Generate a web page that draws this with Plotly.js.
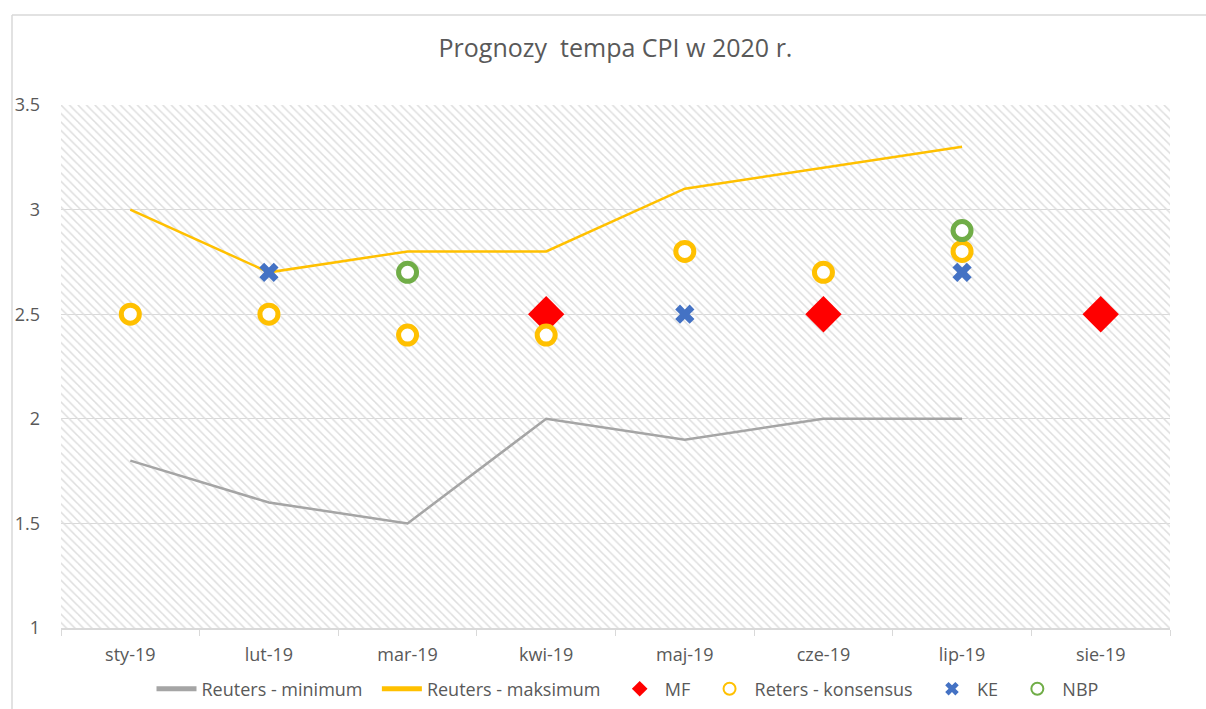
<!DOCTYPE html>
<html>
<head>
<meta charset="utf-8">
<script src="https://cdn.plot.ly/plotly-3.0.1.min.js"></script>
<style>html,body{margin:0;padding:0;background:#fff;}#chart{width:1206px;height:709px;}</style>
</head>
<body>
<div id="chart"></div>
<script>
const months = ["sty-19","lut-19","mar-19","kwi-19","maj-19","cze-19","lip-19","sie-19"];
const reutersMin = [1.8, 1.6, 1.5, 2.0, 1.9, 2.0, 2.0, null];
const reutersMax = [3.0, 2.7, 2.8, 2.8, 3.1, 3.2, 3.3, null];
const mf = [null, null, null, 2.5, null, 2.5, null, 2.5];
const konsensus = [2.5, 2.5, 2.4, 2.4, 2.8, 2.7, 2.8, null];
const ke = [null, 2.7, null, null, 2.5, null, 2.7, null];
const nbp = [null, null, 2.7, null, null, null, 2.9, null];
const yRange = [1, 3.5];

const txt = '#595959';
const font = 'Open Sans, sans-serif';
const margin = {l: 61, r: 36, t: 105, b: 81, autoexpand: false};
const W = 1206, H = 709;
const pw = W - margin.l - margin.r, ph = H - margin.t - margin.b;
const px = v => (v - margin.l) / pw;
const py = v => (H - margin.b - v) / ph;
const pad = '&nbsp;&nbsp;';

const traces = [
  {type:'bar', x:[0.5], y:[yRange[1]-yRange[0]], base:[yRange[0]], width:[1], xaxis:'x', yaxis:'y',
   marker:{color:'rgba(0,0,0,0)', line:{width:0}, pattern:{shape:'\\', fgcolor:'#dedede', bgcolor:'rgba(0,0,0,0)', size:6, solidity:0.25}},
   showlegend:false, hoverinfo:'skip'},
  {type:'scatter', mode:'lines', name:'Reuters - minimum' + pad, x:months, y:reutersMin, xaxis:'x2', yaxis:'y',
   line:{color:'#a5a5a5', width:2.5}},
  {type:'scatter', mode:'lines', name:'Reuters - maksimum' + pad, x:months, y:reutersMax, xaxis:'x2', yaxis:'y',
   line:{color:'#ffc000', width:2.5}},
  {type:'scatter', mode:'markers', name:'MF' + pad, x:months, y:mf, xaxis:'x2', yaxis:'y',
   marker:{symbol:'diamond', size:28, color:'#ff0000'}},
  {type:'scatter', mode:'markers', name:'Reters - konsensus' + pad, x:months, y:konsensus, xaxis:'x2', yaxis:'y',
   marker:{symbol:'circle', size:18, color:'#ffffff', line:{color:'#ffc000', width:5}}},
  {type:'scatter', mode:'markers', name:'KE' + pad, x:months, y:ke, xaxis:'x2', yaxis:'y',
   marker:{symbol:'x', size:17, color:'#4472c4', line:{width:0}}},
  {type:'scatter', mode:'markers', name:'NBP', x:months, y:nbp, xaxis:'x2', yaxis:'y',
   marker:{symbol:'circle', size:18, color:'#ffffff', line:{color:'#70ad47', width:5}}}
];

const layout = {
  width: W, height: H, margin: margin,
  paper_bgcolor:'#ffffff', plot_bgcolor:'rgba(0,0,0,0)',
  font:{family:font, color:txt, size:18},
  title:{text:'Prognozy&nbsp; tempa CPI w 2020 r.', font:{family:font, size:25, color:txt}, x:0.5, xref:'paper', xanchor:'center', y:1-48/H, yanchor:'middle'},
  showlegend:true,
  legend:{orientation:'h', x:0.5 + 12/pw, xanchor:'center', y:-(689-(H-margin.b))/ph, yanchor:'middle', font:{family:font, size:18, color:txt}, itemsizing:'constant', traceorder:'normal', itemwidth:40},
  xaxis:{range:[0,1], visible:false, fixedrange:true},
  xaxis2:{type:'category', overlaying:'x', anchor:'y', side:'bottom', categoryorder:'array', categoryarray:months,
    range:[-0.5, months.length-0.5], tickson:'boundaries', ticks:'outside', ticklen:6, tickcolor:'#d9d9d9', tickwidth:1,
    showline:true, linecolor:'#d9d9d9', linewidth:1.5, showgrid:false, zeroline:false, ticklabelstandoff:10,
    tickfont:{family:font, size:18, color:txt}},
  yaxis:{range:yRange, dtick:0.5, tick0:1, showgrid:true, gridcolor:'#d9d9d9', gridwidth:1, zeroline:false, showline:false,
    ticks:'', ticklabelstandoff:20, tickfont:{family:font, size:18, color:txt}},
  barmode:'overlay',
  shapes:[
    {type:'line', xref:'paper', yref:'paper', x0:px(12), x1:px(12), y0:py(15), y1:py(H), line:{color:'#d9d9d9', width:1.5}},
    {type:'line', xref:'paper', yref:'paper', x0:px(12), x1:px(W), y0:py(15), y1:py(15), line:{color:'#d9d9d9', width:1.5}}
  ]
};

Plotly.newPlot('chart', traces, layout, {displayModeBar:false, staticPlot:true});
</script>
</body>
</html>
